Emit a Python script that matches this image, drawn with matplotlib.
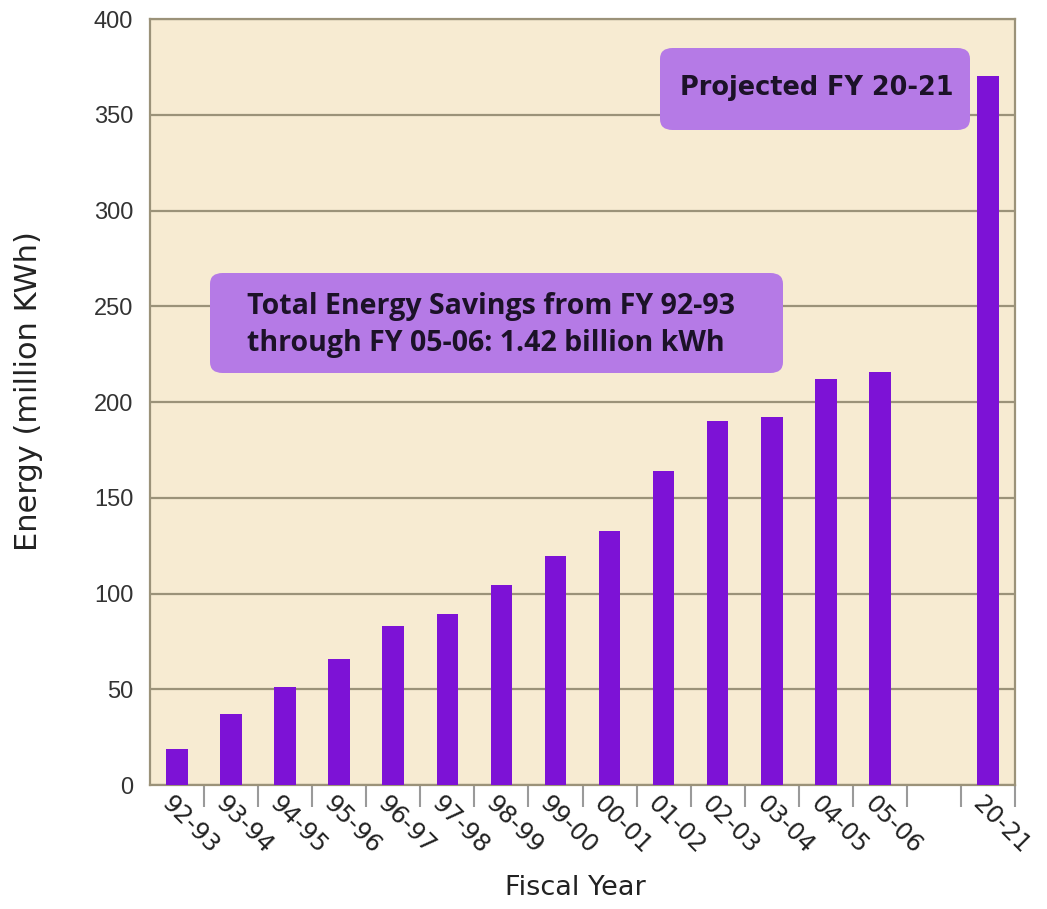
import numpy as np
import matplotlib
matplotlib.use("Agg")
import matplotlib.pyplot as plt
from matplotlib.patches import FancyBboxPatch

# datos
years = ["92-93", "93-94", "94-95", "95-96", "96-97", "97-98", "98-99",
         "99-00", "00-01", "01-02", "02-03", "03-04", "04-05", "05-06",
         "", "20-21"]
energy = [19, 37, 51, 66, 83, 89.5, 104.5, 119.5, 132.5, 164, 190, 192,
          212, 215.5, np.nan, 370]

W, H = 1047, 909
fig = plt.figure(figsize=(W / 100, H / 100), dpi=100)
ax = fig.add_axes([150 / W, 1 - 785 / H, (1015 - 150) / W, (785 - 19) / H])

ax.set_facecolor("#f7ebd2")
grid_col = "#9b9279"

x = np.arange(len(years))
vals = np.array(energy, dtype=float)
mask = ~np.isnan(vals)
ax.bar(x[mask], vals[mask], width=0.4, color="#7d12d6", zorder=3)

ax.set_xlim(-0.5, len(years) - 0.5)
ax.set_ylim(0, 400)
ax.set_yticks(np.arange(0, 401, 50))
ax.yaxis.grid(True, color=grid_col, linewidth=1.6, zorder=1)
ax.set_axisbelow(True)

# ticks en los limites, etiquetas algo a la izquierda del centro
ax.set_xticks(x + 0.5)
ax.set_xticklabels([])
ax.set_xticks(x - 0.22, minor=True)
ax.set_xticklabels(years, minor=True, rotation=-45, ha="left", va="center",
                   rotation_mode="anchor", fontsize=17.5, family="DejaVu Sans",
                   color="#222222")
ax.tick_params(axis="x", which="major", length=16, width=1.5, color="#9a9a9a",
               direction="out")
ax.tick_params(axis="x", which="minor", length=0, pad=11)
ax.tick_params(axis="y", length=0, pad=12, labelsize=17, labelcolor="#333333")
for lab in ax.get_yticklabels():
    lab.set_family("Liberation Sans")

for s in ax.spines.values():
    s.set_color(grid_col)
    s.set_linewidth(1.6)

fig.text(575 / W, 1 - 888 / H, "Fiscal Year", ha="center", va="center",
         fontsize=19.5, family="DejaVu Sans", color="#222222")
fig.text(29 / W, 1 - 391 / H, "Energy (million KWh)", ha="center", va="center",
         rotation=90, fontsize=22, family="DejaVu Sans", color="#222222")

# cuadros de anotacion
box_col = "#b57ae6"
def caja(x0, y0, x1, y1):
    p = FancyBboxPatch((x0 / W, 1 - y1 / H), (x1 - x0) / W, (y1 - y0) / H,
                       boxstyle="round,pad=0,rounding_size=0.012",
                       transform=fig.transFigure, facecolor=box_col,
                       edgecolor="none", zorder=5)
    fig.add_artist(p)

caja(210, 273, 783, 373)
caja(660, 48, 970, 130)

fig.text(247 / W, 1 - 325 / H,
         "Total Energy Savings from FY 92-93\nthrough FY 05-06: 1.42 billion kWh",
         ha="left", va="center", fontsize=20.5, fontweight="bold",
         family="Open Sans", color="#1c1228", linespacing=1.35, zorder=6)
fig.text(680 / W, 1 - 88 / H, "Projected FY 20-21", ha="left", va="center",
         fontsize=18.4, fontweight="bold", family="DejaVu Sans",
         color="#1c1228", zorder=6)

fig.savefig("out.png", dpi=100, facecolor="white")
